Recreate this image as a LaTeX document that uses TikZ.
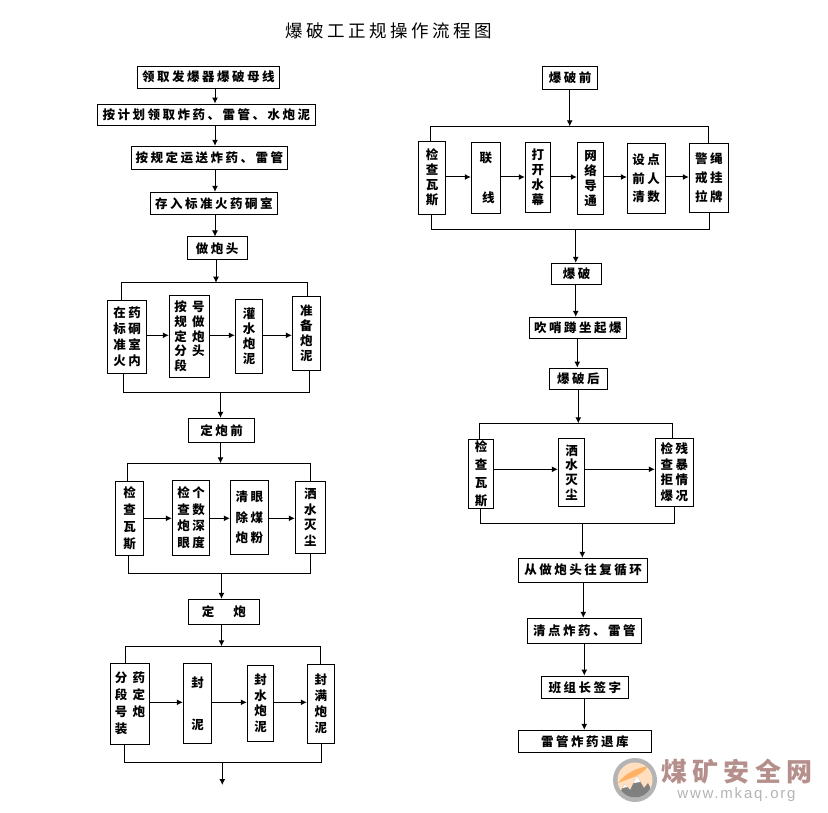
\documentclass[tikz,border=0pt]{standalone}
\usepackage{fontspec}
\usepackage{xcolor}
\usetikzlibrary{arrows.meta}
\newfontfamily\cjk[LetterSpace=20]{Noto Sans CJK SC}
\newfontfamily\markfont[LetterSpace=12]{Liberation Sans}
\definecolor{markred}{HTML}{B58F8C}
\definecolor{markgray}{HTML}{B4B4B4}
\tikzset{
  flow/.style={-{Latex[length=6pt,width=6pt]}},
  hbox/.style={draw,inner sep=0pt,font=\cjk\bfseries\fontsize{12.5}{15}\selectfont},
  vbox/.style={draw,inner sep=0pt,align=center,font=\cjk\bfseries\fontsize{12.5}{#1}\selectfont},
  lbox/.style={vbox=#1,align=left}
}
\begin{document}
\begin{tikzpicture}[x=1pt,y=-1pt,line width=1pt]
  \useasboundingbox (0,0) rectangle (828,813);

  \node[font=\cjk\fontsize{17.5}{20}\selectfont] (title) at (389,31) {爆破工正规操作流程图};

  % left column
  \coordinate (lca) at (215,0);
  \coordinate (lcb) at (216,0);
  \coordinate (lcc) at (220.5,0);
  \coordinate (lcd) at (221.5,0);
  \coordinate (lce) at (222.3,0);

  \node[hbox,minimum width=142pt,minimum height=22.3pt] (lingqu) at (208.3,77.2) {领取发爆器爆破母线};
  \node[hbox,minimum width=218pt,minimum height=21.3pt] (jihua) at (206.3,114.7) {按计划领取炸药、雷管、水炮泥};
  \node[hbox,minimum width=156pt,minimum height=23pt] (yunsong) at (209.3,157.8) {按规定运送炸药、雷管};
  \node[hbox,minimum width=127pt,minimum height=22pt] (cunru) at (213.8,203.3) {存入标准火药硐室};
  \node[hbox,minimum width=60.3pt,minimum height=23pt] (zuopao) at (217.2,248.5) {做炮头};

  \draw[flow] (lca |- lingqu.south) -- (lca |- jihua.north);
  \draw[flow] (lca |- jihua.south) -- (lca |- yunsong.north);
  \draw[flow] (lca |- yunsong.south) -- (lca |- cunru.north);
  \draw[flow] (lca |- cunru.south) -- (lca |- zuopao.north);

  % zuo pao tou
  \coordinate (atl) at (121.3,282.7);
  \coordinate (atr) at (307.3,282.7);
  \coordinate (abl) at (123.3,392.3);
  \coordinate (abr) at (309.3,392.3);
  \coordinate (ay) at (0,335.3);

  \node[vbox=16pt,minimum width=39.4pt,minimum height=73pt] (a1) at (127,336.8) {在药\\标硐\\准室\\火内};
  \node[lbox=14.8pt,minimum width=40.4pt,minimum height=82pt] (a2) at (189.5,336.3) {按~号\\规~做\\定~炮\\分~头\\段};
  \node[vbox=15pt,minimum width=27.4pt,minimum height=74pt] (a3) at (249,336.3) {灌\\水\\炮\\泥};
  \node[vbox=15.2pt,minimum width=28pt,minimum height=74pt] (a4) at (306.3,333.3) {准\\备\\炮\\泥};

  \draw[flow] (lcb |- zuopao.south) -- (lcb |- atl);
  \draw (atl |- a1.north) -- (atl) -- (atr) -- (atr |- a4.north);
  \draw[flow] (a1.east |- ay) -- (a2.west |- ay);
  \draw[flow] (a2.east |- ay) -- (a3.west |- ay);
  \draw[flow] (a3.east |- ay) -- (a4.west |- ay);
  \draw (abl |- a1.south) -- (abl) -- (abr) -- (abr |- a4.south);

  \node[hbox,minimum width=65.6pt,minimum height=23.7pt] (dingqian) at (221.5,430.2) {定炮前};
  \draw[flow] (lcc |- abl) -- (lcc |- dingqian.north);

  % ding pao qian
  \coordinate (btl) at (127.3,463.3);
  \coordinate (btr) at (310.3,463.3);
  \coordinate (bbl) at (128.3,573.3);
  \coordinate (bbr) at (310.3,573.3);
  \coordinate (by) at (0,518.3);

  \node[vbox=16.7pt,minimum width=28.4pt,minimum height=74pt] (b1) at (129.5,518.3) {检\\查\\瓦\\斯};
  \node[vbox=16.5pt,minimum width=37.4pt,minimum height=75pt] (b2) at (191,517.8) {检个\\查数\\炮深\\眼度};
  \node[vbox=20.7pt,minimum width=38pt,minimum height=74pt] (b3) at (249.3,517.3) {清眼\\除煤\\炮粉};
  \node[vbox=15.5pt,minimum width=30pt,minimum height=72pt] (b4) at (310.3,517.3) {洒\\水\\灭\\尘};

  \draw[flow] (lcc |- dingqian.south) -- (lcc |- btl);
  \draw (btl |- b1.north) -- (btl) -- (btr) -- (btr |- b4.north);
  \draw[flow] (b1.east |- by) -- (b2.west |- by);
  \draw[flow] (b2.east |- by) -- (b3.west |- by);
  \draw[flow] (b3.east |- by) -- (b4.west |- by);
  \draw (bbl |- b1.south) -- (bbl) -- (bbr) -- (bbr |- b4.south);

  \node[hbox,minimum width=71pt,minimum height=25pt] (dingpao) at (223.8,611.8) {定\hspace{19pt}炮};
  \draw[flow] (lcd |- bbl) -- (lcd |- dingpao.north);

  % ding pao
  \coordinate (ctl) at (125.3,646.3);
  \coordinate (ctr) at (320.3,646.3);
  \coordinate (cbl) at (124.3,762.3);
  \coordinate (cbr) at (321.7,762.3);
  \coordinate (cy) at (0,702.3);
  \coordinate (cend) at (222.3,785);

  \node[lbox=17pt,minimum width=39.4pt,minimum height=81pt] (c1) at (130,703.8) {分~药\\段~定\\号~炮\\装};
  \node[vbox=42pt,minimum width=28.4pt,minimum height=80pt] (c2) at (197.5,703.3) {封\\泥};
  \node[vbox=15.8pt,minimum width=26.4pt,minimum height=76pt] (c3) at (260.5,703.3) {封\\水\\炮\\泥};
  \node[vbox=16pt,minimum width=27pt,minimum height=79pt] (c4) at (320.8,703.8) {封\\满\\炮\\泥};

  \draw[flow] (lcd |- dingpao.south) -- (lcd |- ctl);
  \draw (ctl |- c1.north) -- (ctl) -- (ctr) -- (ctr |- c4.north);
  \draw[flow] (c1.east |- cy) -- (c2.west |- cy);
  \draw[flow] (c2.east |- cy) -- (c3.west |- cy);
  \draw[flow] (c3.east |- cy) -- (c4.west |- cy);
  \draw (cbl |- c1.south) -- (cbl) -- (cbr) -- (cbr |- c4.south);
  \draw[flow] (lce |- cbl) -- (cend);

  % right column
  \coordinate (rca) at (569.7,0);
  \coordinate (rcb) at (575.7,0);
  \coordinate (rcc) at (577.3,0);
  \coordinate (rcd) at (578.3,0);
  \coordinate (rce) at (582.3,0);
  \coordinate (rcf) at (583.3,0);
  \coordinate (rcg) at (584.3,0);

  \node[hbox,minimum width=55pt,minimum height=23.3pt] (baoqian) at (570.2,77.7) {爆破前};

  \coordinate (dtl) at (430.7,126.3);
  \coordinate (dtr) at (708.3,126.3);
  \coordinate (dbl) at (431.7,229.3);
  \coordinate (dbr) at (709,229.3);
  \coordinate (dy) at (0,177);

  \node[vbox=15pt,minimum width=27.4pt,minimum height=73pt] (d1) at (432,177.8) {检\\查\\瓦\\斯};
  \node[vbox=40pt,minimum width=29pt,minimum height=71pt] (d2) at (485.8,177.8) {联\\\hspace*{5pt}线};
  \node[vbox=15pt,minimum width=25pt,minimum height=70.4pt] (d3) at (537.8,177.5) {打\\开\\水\\幕};
  \node[vbox=15pt,minimum width=26.4pt,minimum height=72pt] (d4) at (590.5,178.3) {网\\络\\导\\通};
  \node[vbox=18.3pt,minimum width=37.7pt,minimum height=70pt] (d5) at (646.2,178.3) {设点\\前人\\清数};
  \node[vbox=19pt,minimum width=39pt,minimum height=69.4pt] (d6) at (708.8,178) {警绳\\戒挂\\拉牌};

  \draw[flow] (rca |- baoqian.south) -- (rca |- dtl);
  \draw (dtl |- d1.north) -- (dtl) -- (dtr) -- (dtr |- d6.north);
  \draw[flow] (d1.east |- dy) -- (d2.west |- dy);
  \draw[flow] (d2.east |- dy) -- (d3.west |- dy);
  \draw[flow] (d3.east |- dy) -- (d4.west |- dy);
  \draw[flow] (d4.east |- dy) -- (d5.west |- dy);
  \draw[flow] (d5.east |- dy) -- (d6.west |- dy);
  \draw (dbl |- d1.south) -- (dbl) -- (dbr) -- (dbr |- d6.south);

  \node[hbox,minimum width=50pt,minimum height=21pt] (baopo) at (576.7,273.8) {爆破};
  \node[hbox,minimum width=97pt,minimum height=21pt] (chuishao) at (577.8,327.8) {吹哨蹲坐起爆};
  \node[hbox,minimum width=58pt,minimum height=21.3pt] (baohou) at (578.3,378.7) {爆破后};

  \draw[flow] (rcb |- dbl) -- (rcb |- baopo.north);
  \draw[flow] (rcb |- baopo.south) -- (rcb |- chuishao.north);
  \draw[flow] (rcc |- chuishao.south) -- (rcc |- baohou.north);

  % bao po hou
  \coordinate (etl) at (479.3,423.3);
  \coordinate (etr) at (672.3,423.3);
  \coordinate (ebl) at (480.3,523.3);
  \coordinate (ebr) at (674.3,523.3);
  \coordinate (ey) at (0,469.3);

  \node[vbox=17.7pt,minimum width=25.4pt,minimum height=69pt] (e1) at (481,473.8) {检\\查\\瓦\\斯};
  \node[vbox=14.7pt,minimum width=26.4pt,minimum height=68pt] (e2) at (571.5,472.3) {洒\\水\\灭\\尘};
  \node[vbox=15.6pt,minimum width=38pt,minimum height=68pt] (e3) at (674.3,472.3) {检残\\查暴\\拒情\\爆况};

  \draw[flow] (rcd |- baohou.south) -- (rcd |- etl);
  \draw (etl |- e1.north) -- (etl) -- (etr) -- (etr |- e3.north);
  \draw[flow] (e1.east |- ey) -- (e2.west |- ey);
  \draw[flow] (e2.east |- ey) -- (e3.west |- ey);
  \draw (ebl |- e1.south) -- (ebl) -- (ebr) -- (ebr |- e3.south);

  \node[hbox,minimum width=129.4pt,minimum height=24pt] (xunhuan) at (583,570.3) {从做炮头往复循环};
  \node[hbox,minimum width=114pt,minimum height=25.4pt] (qingdian) at (584.3,631) {清点炸药、雷管};
  \node[hbox,minimum width=87pt,minimum height=22.3pt] (qianzi) at (584.8,687.2) {班组长签字};
  \node[hbox,minimum width=133pt,minimum height=22pt] (tuiku) at (584.8,741.3) {雷管炸药退库};

  \draw[flow] (rce |- ebl) -- (rce |- xunhuan.north);
  \draw[flow] (rcf |- xunhuan.south) -- (rcf |- qingdian.north);
  \draw[flow] (rcg |- qingdian.south) -- (rcg |- qianzi.north);
  \draw[flow] (rcg |- qianzi.south) -- (rcg |- tuiku.north);

  % site mark
  \fill[markgray] (635,780) circle (22);
  \fill[orange!25!white] (635,780) circle (17.5);
  \begin{scope}
    \clip (635,780) circle (17.5);
    \fill[orange!60!white] (618,783) .. controls (628,770) and (640,768) .. (648,766) .. controls (642,776) and (630,778) .. (618,783);
    \fill[black!50] (615,800) -- (625,784) -- (630,790) -- (637,776) -- (644,788) -- (648,783) -- (656,800) -- cycle;
    \fill[white] (633.5,783) -- (637,776) -- (640.5,782) -- cycle;
    \fill[white] (622.5,788) -- (625,784) -- (627.5,787) -- cycle;
  \end{scope}
  \node[font=\cjk\bfseries\fontsize{26}{28}\selectfont,text=markred] (marktitle) at (737,772) {煤矿安全网};
  \node[font=\markfont\fontsize{15}{17}\selectfont,text=markgray] (markurl) at (736.5,795) {www.mkaq.org};
\end{tikzpicture}
\end{document}
